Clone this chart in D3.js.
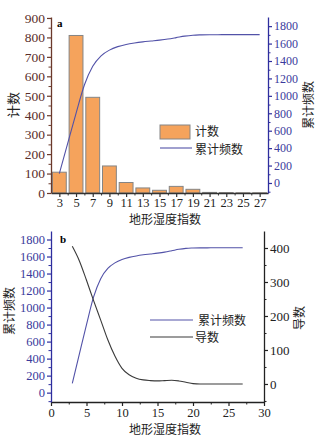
<!DOCTYPE html>
<html><head><meta charset="utf-8">
<script src="https://cdn.jsdelivr.net/npm/d3@7"></script>
<style>
body{margin:0;background:#fff;}
</style></head>
<body><svg id="c" width="327" height="436"></svg>
<script>
// ---- data ----
const binCenters = [3,5,7,9,11,13,15,17,19,21,23,25,27];
const binCounts  = [107,810,492,139,54,26,14,34,19,3,2,1,1];
const twiX       = [3,4,5,6,7,8,9,10,11,12,13,14,15,16,17,18,19,20,21,22,23,24,25,26,27];
const cumFreq    = [108,455,800,1125,1340,1460,1525,1565,1590,1607,1620,1630,1640,1652,1668,1685,1696,1700,1702,1702,1703,1703,1703,1703,1703];
const derivative = [405,362,305,245,188,130,82,46,27,17,12,10,9,10,11,9,5,1,0,0,0,0,0,0,0];
const leftTicksA  = [0,100,200,300,400,500,600,700,800,900];
const rightTicksA = [0,200,400,600,800,1000,1200,1400,1600,1800];
const xTicksB = [0,5,10,15,20,25,30];
const leftTicksB = [0,200,400,600,800,1000,1200,1400,1600,1800];
const rightTicksB = [0,100,200,300,400];

const SERIF = "'Liberation Serif','DejaVu Serif',serif";
const CJK = "'Noto Sans CJK SC',sans-serif";
const svg = d3.select("#c");
const brown="#6b3a2c", brownTxt="#5a2e2a", blue="#2e2e9e", blueTxt="#3a3a9c", lineBlue="#5252a8";
const fmt = d3.format("d");

function styleAxis(g,color,txtColor,fs){
  g.attr("font-family",SERIF);
  g.select(".domain").attr("stroke",color).attr("stroke-width",1.3);
  g.selectAll(".tick line").attr("stroke",color).attr("stroke-width",1.2);
  g.selectAll(".tick text").attr("fill",txtColor).style("font-size",fs+"px").style("font-family",SERIF);
}
function minor(g,axis,color){
  g.call(axis); g.select(".domain").remove();
  g.selectAll(".tick text").remove();
  g.selectAll(".tick line").attr("stroke",color).attr("stroke-width",1);
}
function cjkText(x,y,txt,fs,rot){
  const t=svg.append("text").style("font-family",CJK).style("font-size",fs+"px").attr("fill","#222").text(txt);
  if(rot){t.attr("transform",`translate(${x},${y}) rotate(-90)`).attr("text-anchor","middle");}
  else{t.attr("x",x).attr("y",y);}
  return t;
}

// ================= Chart a =================
const A={l:51,r:268,t:17,b:193};
const xa=d3.scaleLinear().domain([2,28]).range([A.l,A.r]);
const ya=d3.scaleLinear().domain([0,905]).range([A.b,A.t]);
const ya2=d3.scaleLinear().domain([-115,1905]).range([A.b,A.t]);

const bw = xa(2.66)-xa(1);
svg.append("g").selectAll("rect").data(binCenters).join("rect")
  .attr("x",(d)=>xa(d)-bw/2).attr("width",bw)
  .attr("y",(d,i)=>ya(binCounts[i])).attr("height",(d,i)=>ya(0)-ya(binCounts[i]))
  .attr("fill","#f5a35c").attr("stroke","#858585").attr("stroke-width",1);

svg.append("path").datum(twiX.map((x,i)=>[x,cumFreq[i]]))
  .attr("fill","none").attr("stroke",lineBlue).attr("stroke-width",1.1)
  .attr("d",d3.line().x(d=>xa(d[0])).y(d=>ya2(d[1])).curve(d3.curveMonotoneX));

// axes a
let g=svg.append("g").attr("transform",`translate(0,${A.b})`)
  .call(d3.axisBottom(xa).tickValues(binCenters).tickFormat(fmt).tickSize(4).tickPadding(1).tickSizeOuter(0));
styleAxis(g,"#333","#222",12.5);
minor(svg.append("g").attr("transform",`translate(0,${A.b})`),
  d3.axisBottom(xa).tickValues(d3.range(4,28,2)).tickSize(2.5),"#333");

g=svg.append("g").attr("transform",`translate(${A.l},0)`)
  .call(d3.axisLeft(ya).tickValues(leftTicksA).tickFormat(fmt).tickSize(4).tickPadding(2).tickSizeOuter(0));
styleAxis(g,brown,brownTxt,13.5);
minor(svg.append("g").attr("transform",`translate(${A.l},0)`),
  d3.axisLeft(ya).tickValues(d3.range(50,900,100)).tickSize(2.5),brown);

g=svg.append("g").attr("transform",`translate(${A.r},0)`)
  .call(d3.axisRight(ya2).tickValues(rightTicksA).tickFormat(fmt).tickSize(4).tickPadding(2).tickSizeOuter(0));
styleAxis(g,blue,blueTxt,12);
minor(svg.append("g").attr("transform",`translate(${A.r},0)`),
  d3.axisRight(ya2).tickValues(d3.range(-100,1900,200)).tickSize(2.5),blue);

svg.append("text").attr("x",57).attr("y",27).style("font-family",SERIF).style("font-size","11px").attr("font-weight","bold").text("a");
cjkText(165,224,"地形湿度指数",12).attr("text-anchor","middle");
cjkText(18,105,"计数",13,true);
cjkText(313,105,"累计频数",12,true);

// legend a
svg.append("rect").attr("x",160).attr("y",125).attr("width",30).attr("height",14)
  .attr("fill","#f5a35c").attr("stroke","#858585");
cjkText(195,136,"计数",12);
svg.append("line").attr("x1",160).attr("x2",192).attr("y1",148).attr("y2",148).attr("stroke",lineBlue).attr("stroke-width",1.1);
cjkText(195,153.5,"累计频数",12);

// ================= Chart b =================
const B={l:51,r:264,t:231,b:402};
const xb=d3.scaleLinear().domain([0,30]).range([B.l,B.r]);
const yb=d3.scaleLinear().domain([-110,1900]).range([B.b,B.t]);
const yb2=d3.scaleLinear().domain([-53,450]).range([B.b,B.t]);

svg.append("path").datum(twiX.map((x,i)=>[x,cumFreq[i]]))
  .attr("fill","none").attr("stroke",lineBlue).attr("stroke-width",1.1)
  .attr("d",d3.line().x(d=>xb(d[0])).y(d=>yb(d[1])).curve(d3.curveMonotoneX));
svg.append("path").datum(twiX.map((x,i)=>[x,derivative[i]]))
  .attr("fill","none").attr("stroke","#3a3a3a").attr("stroke-width",1.1)
  .attr("d",d3.line().x(d=>xb(d[0])).y(d=>yb2(d[1])).curve(d3.curveMonotoneX));

g=svg.append("g").attr("transform",`translate(0,${B.b})`)
  .call(d3.axisBottom(xb).tickValues(xTicksB).tickFormat(fmt).tickSize(4).tickPadding(2).tickSizeOuter(0));
styleAxis(g,"#222","#222",12.5);
minor(svg.append("g").attr("transform",`translate(0,${B.b})`),
  d3.axisBottom(xb).tickValues(d3.range(2.5,30,5)).tickSize(2.5),"#222");

g=svg.append("g").attr("transform",`translate(${B.l},0)`)
  .call(d3.axisLeft(yb).tickValues(leftTicksB).tickFormat(fmt).tickSize(4).tickPadding(2).tickSizeOuter(0));
styleAxis(g,blue,blueTxt,12.5);
minor(svg.append("g").attr("transform",`translate(${B.l},0)`),
  d3.axisLeft(yb).tickValues(d3.range(-100,1900,100).filter(v=>v%200!==0)).tickSize(2.5),blue);

g=svg.append("g").attr("transform",`translate(${B.r},0)`)
  .call(d3.axisRight(yb2).tickValues(rightTicksB).tickFormat(fmt).tickSize(4).tickPadding(2).tickSizeOuter(0));
styleAxis(g,"#222","#222",13);
minor(svg.append("g").attr("transform",`translate(${B.r},0)`),
  d3.axisRight(yb2).tickValues(d3.range(-50,450,100)).tickSize(2.5),"#222");

svg.append("text").attr("x",60).attr("y",243).style("font-family",SERIF).style("font-size","11px").attr("font-weight","bold").text("b");
cjkText(165,434,"地形湿度指数",12).attr("text-anchor","middle");
cjkText(14,311,"累计频数",12,true);
cjkText(304,318,"导数",12,true);

// legend b
svg.append("line").attr("x1",150).attr("x2",193).attr("y1",320).attr("y2",320).attr("stroke",lineBlue).attr("stroke-width",1.1);
cjkText(198,324.5,"累计频数",12);
svg.append("line").attr("x1",150).attr("x2",193).attr("y1",337).attr("y2",337).attr("stroke","#3a3a3a").attr("stroke-width",1.1);
cjkText(195,341.5,"导数",12);
</script></body></html>
